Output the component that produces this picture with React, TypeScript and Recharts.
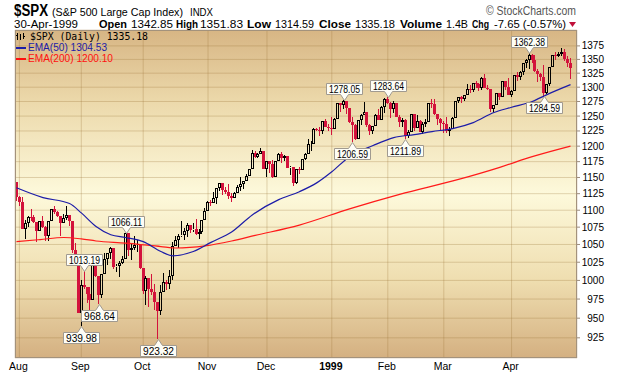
import React from 'react';
import { ComposedChart, Bar, Line, XAxis, YAxis, CartesianGrid, ReferenceDot } from 'recharts';

// trading days, grouped by month
const tradingDays: [string, number[]][] = [
    ['1998-07', [31]],
    ['1998-08', [3, 4, 5, 6, 7, 10, 11, 12, 13, 14, 17, 18, 19, 20, 21, 24, 25, 26, 27, 28, 31]],
    ['1998-09', [1, 2, 3, 4, 8, 9, 10, 11, 14, 15, 16, 17, 18, 21, 22, 23, 24, 25, 28, 29, 30]],
    ['1998-10', [1, 2, 5, 6, 7, 8, 9, 12, 13, 14, 15, 16, 19, 20, 21, 22, 23, 26, 27, 28, 29, 30]],
    ['1998-11', [2, 3, 4, 5, 6, 9, 10, 11, 12, 13, 16, 17, 18, 19, 20, 23, 24, 25, 27, 30]],
    ['1998-12', [1, 2, 3, 4, 7, 8, 9, 10, 11, 14, 15, 16, 17, 18, 21, 22, 23, 24, 28, 29, 30, 31]],
    ['1999-01', [4, 5, 6, 7, 8, 11, 12, 13, 14, 15, 19, 20, 21, 22, 25, 26, 27, 28, 29]],
    ['1999-02', [1, 2, 3, 4, 5, 8, 9, 10, 11, 12, 16, 17, 18, 19, 22, 23, 24, 25, 26]],
    ['1999-03', [1, 2, 3, 4, 5, 8, 9, 10, 11, 12, 15, 16, 17, 18, 19, 22, 23, 24, 25, 26, 29, 30, 31]],
    ['1999-04', [1, 5, 6, 7, 8, 9, 12, 13, 14, 15, 16, 19, 20, 21, 22, 23, 26, 27, 28, 29, 30]],
];
const dates: string[] = tradingDays.flatMap(([m, days]) => days.map((d) => `${m}-${String(d).padStart(2, '0')}`));

const opens = [
    1143.09,
    1120.67, 1112.44, 1072.12, 1081.43, 1089.63, 1089.45, 1083.14, 1068.98, 1084.22, 1074.91, 1062.75, 1083.67, 1101.20, 1098.06, 1091.60, 1081.24, 1088.14, 1092.85, 1084.19, 1042.59, 1027.14,
    957.28, 994.26, 990.47, 982.26, 973.89, 1023.46, 1006.20, 980.19, 1009.06, 1029.72, 1037.68, 1045.48, 1018.87, 1020.09, 1023.89, 1029.63, 1066.09, 1042.72, 1044.75, 1048.69, 1049.02,
    1017.01, 986.39, 1002.60, 988.56, 984.59, 970.68, 959.44, 984.39, 997.71, 994.80, 1005.53, 1047.49, 1056.42, 1062.39, 1063.93, 1069.92, 1078.48, 1070.67, 1072.32, 1065.34, 1068.09, 1085.93,
    1098.67, 1111.60, 1110.84, 1118.67, 1133.85, 1141.01, 1130.20, 1128.26, 1120.97, 1117.69, 1125.72, 1135.87, 1139.32, 1144.48, 1152.61, 1163.55, 1188.21, 1182.99, 1186.87, 1192.33,
    1163.63, 1175.28, 1171.25, 1150.14, 1176.74, 1187.70, 1181.38, 1183.49, 1165.02, 1166.46, 1141.20, 1162.83, 1161.94, 1179.98, 1188.03, 1202.84, 1203.57, 1228.54, 1226.27, 1225.49, 1241.81, 1231.93,
    1229.23, 1228.10, 1244.78, 1272.34, 1269.73, 1275.09, 1263.88, 1239.51, 1234.40, 1212.19, 1243.26, 1252.00, 1256.62, 1235.16, 1225.19, 1233.98, 1252.31, 1243.17, 1265.37,
    1279.64, 1273.00, 1261.99, 1272.07, 1248.49, 1239.40, 1243.77, 1216.14, 1223.55, 1254.04, 1230.13, 1241.87, 1224.03, 1237.28, 1239.22, 1272.14, 1271.18, 1253.41, 1245.02,
    1238.33, 1236.16, 1225.50, 1227.70, 1246.64, 1275.47, 1282.73, 1279.84, 1286.84, 1297.68, 1294.59, 1307.26, 1306.38, 1297.82, 1316.55, 1299.29, 1297.01, 1262.14, 1268.59, 1289.99, 1282.80, 1310.17, 1300.75,
    1286.37, 1293.72, 1321.12, 1317.89, 1326.89, 1343.98, 1348.35, 1358.63, 1349.82, 1328.44, 1322.85, 1319.00, 1289.48, 1306.17, 1336.12, 1358.82, 1356.85, 1360.04, 1362.80, 1350.91, 1342.85,
];
const highs = [
    1143.09,
    1121.12, 1119.73, 1084.80, 1090.96, 1102.54, 1092.82, 1083.14, 1084.70, 1091.50, 1077.00, 1083.67, 1101.72, 1106.88, 1098.79, 1091.60, 1093.82, 1106.65, 1092.85, 1084.19, 1051.80, 1033.47,
    1000.71, 1013.19, 990.47, 991.41, 1023.46, 1027.72, 1006.20, 1009.06, 1038.38, 1037.90, 1046.07, 1045.48, 1022.01, 1026.02, 1033.89, 1066.11, 1066.09, 1051.89, 1061.46, 1056.31, 1049.02,
    1017.01, 1005.45, 1002.60, 1008.77, 995.67, 970.68, 993.26, 1010.71, 1000.78, 1014.42, 1053.09, 1062.65, 1065.21, 1084.06, 1073.71, 1080.96, 1078.48, 1081.24, 1087.08, 1072.79, 1086.11, 1103.78,
    1114.44, 1115.03, 1127.22, 1133.88, 1141.30, 1141.01, 1135.91, 1139.87, 1125.96, 1126.81, 1138.67, 1151.45, 1144.52, 1155.10, 1163.55, 1192.97, 1191.40, 1189.18, 1197.09, 1192.72,
    1175.89, 1175.28, 1176.99, 1176.74, 1188.96, 1191.01, 1185.22, 1183.49, 1167.67, 1166.46, 1162.83, 1166.29, 1180.03, 1188.89, 1210.88, 1209.22, 1229.89, 1229.72, 1231.52, 1241.86, 1244.93, 1237.18,
    1248.81, 1246.11, 1272.50, 1272.34, 1278.05, 1276.22, 1264.45, 1247.75, 1236.81, 1243.26, 1253.27, 1274.07, 1256.94, 1236.41, 1233.98, 1253.25, 1262.61, 1266.40, 1280.37,
    1283.64, 1273.49, 1276.04, 1272.23, 1251.86, 1246.90, 1245.19, 1226.78, 1254.04, 1254.19, 1252.17, 1242.85, 1239.36, 1245.57, 1272.22, 1279.50, 1280.20, 1253.41, 1246.01,
    1241.69, 1248.31, 1231.63, 1247.74, 1275.73, 1282.74, 1283.83, 1287.02, 1306.43, 1304.42, 1307.47, 1311.11, 1306.55, 1317.62, 1323.82, 1303.84, 1297.01, 1269.02, 1289.99, 1289.99, 1310.76, 1310.17, 1316.63,
    1294.54, 1321.12, 1326.76, 1329.58, 1344.08, 1351.22, 1362.38, 1360.27, 1357.24, 1332.41, 1325.03, 1340.02, 1306.30, 1336.12, 1358.84, 1363.65, 1363.56, 1371.56, 1368.62, 1356.75, 1351.83,
];
const lows = [
    1114.30,
    1106.39, 1071.82, 1057.35, 1074.94, 1084.72, 1081.76, 1054.00, 1068.98, 1074.10, 1055.20, 1055.08, 1083.67, 1094.00, 1089.55, 1062.00, 1081.24, 1085.53, 1076.12, 1037.61, 1023.11, 957.28,
    939.98, 988.40, 969.32, 956.51, 973.89, 1004.56, 968.64, 976.80, 1009.06, 1021.18, 1029.31, 1016.05, 1011.86, 1004.00, 1021.96, 1029.63, 1033.04, 1028.49, 1042.23, 1039.88, 1015.73,
    981.29, 967.40, 964.72, 981.03, 960.93, 923.32, 954.20, 984.39, 987.55, 987.80, 1000.12, 1047.49, 1045.54, 1060.61, 1056.18, 1061.42, 1067.05, 1068.17, 1063.05, 1057.92, 1064.74, 1085.93,
    1098.67, 1105.95, 1110.84, 1109.57, 1129.84, 1123.62, 1124.67, 1117.50, 1112.82, 1117.69, 1125.72, 1128.60, 1131.51, 1144.42, 1152.61, 1163.55, 1181.60, 1180.52, 1186.87, 1163.63,
    1150.31, 1157.76, 1149.61, 1150.14, 1176.74, 1172.81, 1175.89, 1164.96, 1153.89, 1136.89, 1139.55, 1154.69, 1161.94, 1178.27, 1188.03, 1192.72, 1203.57, 1224.85, 1216.52, 1220.78, 1231.20, 1224.17,
    1219.10, 1228.10, 1244.78, 1257.68, 1261.82, 1253.34, 1238.29, 1206.59, 1209.54, 1212.19, 1234.91, 1251.54, 1232.19, 1217.97, 1219.46, 1233.98, 1242.82, 1243.17, 1255.18,
    1271.31, 1247.56, 1255.25, 1248.36, 1232.28, 1231.98, 1211.89, 1213.41, 1223.55, 1225.52, 1230.13, 1223.00, 1220.60, 1230.83, 1239.22, 1263.56, 1252.01, 1235.61, 1225.23,
    1221.23, 1221.87, 1216.03, 1227.70, 1246.64, 1271.58, 1271.74, 1275.16, 1286.84, 1289.17, 1291.03, 1297.74, 1292.63, 1294.75, 1298.92, 1294.26, 1257.46, 1256.43, 1268.59, 1276.88, 1282.80, 1295.47, 1285.72,
    1282.56, 1293.72, 1311.07, 1312.59, 1321.60, 1335.24, 1332.41, 1344.03, 1326.41, 1308.38, 1311.40, 1284.59, 1288.34, 1301.84, 1336.12, 1349.45, 1353.72, 1356.55, 1346.29, 1336.81, 1314.59,
];
const closes = [
    1120.67,
    1112.44, 1072.12, 1081.43, 1089.63, 1089.45, 1083.14, 1068.98, 1084.22, 1074.91, 1062.75, 1083.67, 1101.20, 1098.06, 1091.60, 1081.24, 1088.14, 1092.85, 1084.19, 1042.59, 1027.14, 957.28,
    994.26, 990.47, 982.26, 973.89, 1023.46, 1006.20, 980.19, 1009.06, 1029.72, 1037.68, 1045.48, 1018.87, 1020.09, 1023.89, 1029.63, 1066.09, 1042.72, 1044.75, 1048.69, 1049.02, 1017.01,
    986.39, 1002.60, 988.56, 984.59, 970.68, 959.44, 984.39, 997.71, 994.80, 1005.53, 1047.49, 1056.42, 1062.39, 1063.93, 1069.92, 1078.48, 1070.67, 1072.32, 1065.34, 1068.09, 1085.93, 1098.67,
    1111.60, 1110.84, 1118.67, 1133.85, 1141.01, 1130.20, 1128.26, 1120.97, 1117.69, 1125.72, 1135.87, 1139.32, 1144.48, 1152.61, 1163.55, 1188.21, 1182.99, 1186.87, 1192.33, 1163.63,
    1175.28, 1171.25, 1150.14, 1176.74, 1187.70, 1181.38, 1183.49, 1165.02, 1166.46, 1141.20, 1162.83, 1161.94, 1179.98, 1188.03, 1202.84, 1203.57, 1228.54, 1226.27, 1225.49, 1241.81, 1231.93, 1229.23,
    1228.10, 1244.78, 1272.34, 1269.73, 1275.09, 1263.88, 1239.51, 1234.40, 1212.19, 1243.26, 1252.00, 1256.62, 1235.16, 1225.19, 1233.98, 1252.31, 1243.17, 1265.37, 1279.64,
    1273.00, 1261.99, 1272.07, 1248.49, 1239.40, 1243.77, 1216.14, 1223.55, 1254.04, 1230.13, 1241.87, 1224.03, 1237.28, 1239.22, 1272.14, 1271.18, 1253.41, 1245.02, 1238.33,
    1236.16, 1225.50, 1227.70, 1246.64, 1275.47, 1282.73, 1279.84, 1286.84, 1297.68, 1294.59, 1307.26, 1306.38, 1297.82, 1316.55, 1299.29, 1297.01, 1262.14, 1268.59, 1289.99, 1282.80, 1310.17, 1300.75, 1286.37,
    1293.72, 1321.12, 1317.89, 1326.89, 1343.98, 1348.35, 1358.63, 1349.82, 1328.44, 1322.85, 1319.00, 1289.48, 1306.17, 1336.12, 1358.82, 1356.85, 1360.04, 1362.80, 1350.91, 1342.83, 1335.18,
];

const ema50Points: [string, number][] = [
    ['1998-07-31', 1134], ['1998-08-13', 1119], ['1998-08-26', 1110], ['1998-09-01', 1096], ['1998-09-09', 1076],
    ['1998-09-16', 1064], ['1998-09-23', 1060], ['1998-10-01', 1054], ['1998-10-09', 1040], ['1998-10-15', 1034],
    ['1998-10-26', 1040], ['1998-11-03', 1053], ['1998-11-12', 1068], ['1998-11-23', 1093], ['1998-12-07', 1116],
    ['1998-12-16', 1128], ['1998-12-24', 1142], ['1999-01-04', 1159], ['1999-01-12', 1183], ['1999-01-25', 1201],
    ['1999-02-03', 1214], ['1999-02-12', 1219], ['1999-02-23', 1224], ['1999-03-04', 1229], ['1999-03-15', 1239],
    ['1999-03-24', 1256], ['1999-04-01', 1265], ['1999-04-13', 1275], ['1999-04-20', 1287], ['1999-04-30', 1304.53],
];
const ema200Points: [string, number][] = [
    ['1998-07-31', 1054], ['1998-08-12', 1057], ['1998-08-24', 1060], ['1998-09-01', 1058], ['1998-09-09', 1055],
    ['1998-09-23', 1052], ['1998-10-09', 1047], ['1998-10-16', 1045], ['1998-10-30', 1048], ['1998-11-12', 1055],
    ['1998-11-24', 1063], ['1998-12-16', 1078], ['1999-01-12', 1102], ['1999-02-05', 1124], ['1999-03-08', 1147],
    ['1999-03-26', 1166], ['1999-04-13', 1183], ['1999-04-30', 1200.10],
];

const monthTicks = ['1998-08-03', '1998-09-01', '1998-10-01', '1998-11-02', '1998-12-01', '1999-01-04', '1999-02-01', '1999-03-01', '1999-04-01'];
const monthLabels = ['Aug', 'Sep', 'Oct', 'Nov', 'Dec', '1999', 'Feb', 'Mar', 'Apr'];
const priceTicks = [925, 950, 975, 1000, 1025, 1050, 1075, 1100, 1125, 1150, 1175, 1200, 1225, 1250, 1275, 1300, 1325, 1350, 1375];

// peak / trough annotations
const callouts: [string, number][] = [
    ['1998-09-01', 939.98], ['1998-09-02', 1013.19], ['1998-09-10', 968.64], ['1998-09-23', 1066.11],
    ['1998-10-08', 923.32], ['1999-01-08', 1278.05], ['1999-01-13', 1206.59], ['1999-02-01', 1283.64],
    ['1999-02-09', 1211.89], ['1999-04-12', 1362.38], ['1999-04-19', 1284.59],
];

const RED = '#d3123c';
const FONT = '"Liberation Sans", Arial, sans-serif';

const ema50Map = new Map(ema50Points);
const ema200Map = new Map(ema200Points);
const chartData = dates.map((date, i) => ({
    date,
    range: [lows[i], highs[i]],
    open: opens[i],
    high: highs[i],
    low: lows[i],
    close: closes[i],
    ema50: ema50Map.get(date) ?? null,
    ema200: ema200Map.get(date) ?? null,
}));

const Candle = (props: any) => {
    const { x, y, width, height, payload } = props;
    if (!payload || x == null || y == null) return null;
    const top = Math.min(y, y + height);
    const h = Math.abs(height);
    const lnH = Math.log(payload.high);
    const span = lnH - Math.log(payload.low);
    const toY = (v: number) => (span > 0 ? top + ((lnH - Math.log(v)) / span) * h : top);
    const cx = Math.floor(x + width / 2);
    const yO = toY(payload.open);
    const yC = toY(payload.close);
    const bTop = Math.round(Math.min(yO, yC));
    const bBot = Math.round(Math.max(yO, yC));
    const wTop = Math.round(top);
    const wBot = Math.round(top + h);
    if (payload.close >= payload.open) {
        return (
            <g stroke="#000" strokeWidth={1} fill="none" shapeRendering="crispEdges">
                <line x1={cx + 0.5} x2={cx + 0.5} y1={wTop} y2={bTop} />
                <line x1={cx + 0.5} x2={cx + 0.5} y1={bBot} y2={wBot} />
                <rect x={cx - 0.5} y={bTop + 0.5} width={2} height={Math.max(bBot - bTop - 1, 0)} />
            </g>
        );
    }
    return (
        <g shapeRendering="crispEdges">
            <line x1={cx + 0.5} x2={cx + 0.5} y1={wTop} y2={wBot} stroke={RED} strokeWidth={1} />
            <rect x={cx - 1} y={bTop} width={3} height={Math.max(bBot - bTop, 1)} fill={RED} />
        </g>
    );
};

const Callout = ({ cx, cy, text, below }: { cx: number; cy: number; text: string; below: boolean }) => {
    if (cx == null || cy == null) return null;
    const w = 36;
    const h = 11;
    const px = Math.round(cx) + 0.5;
    const tip = Math.round(cy) + 0.5;
    const bx = px - w / 2;
    const by = below ? tip + 6 : tip - 6 - h;
    const d = below
        ? `M${bx},${by} H${px - 4} L${px},${tip} L${px + 4},${by} H${bx + w} V${by + h} H${bx} Z`
        : `M${bx},${by} H${bx + w} V${by + h} H${px + 4} L${px},${tip} L${px - 4},${by + h} H${bx} Z`;
    return (
        <g>
            <path d={d} fill="#fdfdf6" stroke="#a09a90" strokeWidth={1} />
            <text x={px} y={by + h - 2} textAnchor="middle" fontSize={10} fontFamily={FONT} fill="#000"
                textLength={31} lengthAdjust="spacingAndGlyphs">{text}</text>
        </g>
    );
};

const PriceTick = ({ y, payload }: any) => (
    <text x={604} y={y + 3.5} textAnchor="end" fontSize={10} fontFamily={FONT} fill="#000">{payload.value}</text>
);

const MonthTick = ({ x, payload }: any) => {
    const idx = monthTicks.indexOf(payload.value);
    const label = monthLabels[idx];
    return (
        <text x={x - 1} y={370} textAnchor="middle" fontSize={10.5} fontFamily={FONT}
            fontWeight={label === '1999' ? 'bold' : 'normal'} fill="#000">{label}</text>
    );
};

const Header = () => (
    <svg width={620} height={376} style={{ position: 'absolute', left: 0, top: 0, pointerEvents: 'none' }}>
        <g fontFamily={FONT} fill="#000">
            <text x={14} y={16} fontSize={16} fontWeight="bold" textLength={34} lengthAdjust="spacingAndGlyphs">$SPX</text>
            <text x={52} y={16} fontSize={10.6} textLength={131} lengthAdjust="spacingAndGlyphs">(S&amp;P 500 Large Cap Index)</text>
            <text x={190} y={16} fontSize={11.5} textLength={23} lengthAdjust="spacingAndGlyphs">INDX</text>
            <text x={486} y={15} fontSize={12} fill="#555" textLength={90} lengthAdjust="spacingAndGlyphs">© StockCharts.com</text>

            <text x={14} y={28} fontSize={11} textLength={64} lengthAdjust="spacingAndGlyphs">30-Apr-1999</text>
            <text x={99} y={28} fontSize={11} fontWeight="bold" textLength={28} lengthAdjust="spacingAndGlyphs">Open</text>
            <text x={131} y={28} fontSize={11} textLength={42} lengthAdjust="spacingAndGlyphs">1342.85</text>
            <text x={176} y={28} fontSize={11} fontWeight="bold" textLength={22} lengthAdjust="spacingAndGlyphs">High</text>
            <text x={200} y={28} fontSize={11} textLength={43} lengthAdjust="spacingAndGlyphs">1351.83</text>
            <text x={247} y={28} fontSize={11} fontWeight="bold" textLength={24} lengthAdjust="spacingAndGlyphs">Low</text>
            <text x={275} y={28} fontSize={11} textLength={39} lengthAdjust="spacingAndGlyphs">1314.59</text>
            <text x={319} y={28} fontSize={11} fontWeight="bold" textLength={32} lengthAdjust="spacingAndGlyphs">Close</text>
            <text x={355} y={28} fontSize={11} textLength={40} lengthAdjust="spacingAndGlyphs">1335.18</text>
            <text x={400} y={28} fontSize={11} fontWeight="bold" textLength={42} lengthAdjust="spacingAndGlyphs">Volume</text>
            <text x={446} y={28} fontSize={11} textLength={22} lengthAdjust="spacingAndGlyphs">1.4B</text>
            <text x={472} y={28} fontSize={11} fontWeight="bold" textLength={17} lengthAdjust="spacingAndGlyphs">Chg</text>
            <text x={494} y={28} fontSize={11} textLength={72} lengthAdjust="spacingAndGlyphs">-7.65 (-0.57%)</text>
            <path d="M569,22 L576,22 L572.5,27 Z" fill="#c0103a" />
        </g>

        {/* legend inside the plot */}
        <g shapeRendering="crispEdges">
            <line x1={17.5} x2={17.5} y1={33} y2={40} stroke="#000" />
            <line x1={16} x2={17.5} y1={35.5} y2={35.5} stroke="#000" />
            <line x1={20.5} x2={20.5} y1={34} y2={40} stroke="#000" />
            <line x1={23.5} x2={23.5} y1={33} y2={39} stroke="#000" />
            <line x1={23.5} x2={25} y1={36.5} y2={36.5} stroke="#000" />
            <line x1={16} x2={26} y1={47.5} y2={47.5} stroke="#1c1ca8" strokeWidth={2} />
            <line x1={16} x2={26} y1={58.5} y2={58.5} stroke="#ff1010" strokeWidth={2} />
        </g>
        <text x={30} y={40} fontSize={10.5} fontFamily='"DejaVu Sans Mono", monospace' fill="#000"
            textLength={118} lengthAdjust="spacingAndGlyphs">$SPX (Daily) 1335.18</text>
        <text x={28} y={51} fontSize={10.5} fontFamily={FONT} fill="#1c1ca8"
            textLength={79} lengthAdjust="spacingAndGlyphs">EMA(50) 1304.53</text>
        <text x={28} y={62} fontSize={10.5} fontFamily={FONT} fill="#ff1010"
            textLength={85} lengthAdjust="spacingAndGlyphs">EMA(200) 1200.10</text>
    </svg>
);

export default function App() {
    return (
        <div style={{ position: 'absolute', left: 0, top: 0, width: 620, height: 376, background: '#fff' }}>
            {/* plot background */}
            <div style={{
                position: 'absolute', left: 15, top: 30, width: 562, height: 328,
                background: 'linear-gradient(to bottom, #d7b584 0%, #ecd9ab 22%, #fdf9db 50%, #efdeb0 76%, #d4b081 100%)',
            }} />
            <div style={{ position: 'absolute', left: 0, top: 0 }}>
                <ComposedChart width={620} height={376} data={chartData}
                    margin={{ top: 30, right: 3, bottom: 0, left: 15 }}>
                    <CartesianGrid stroke="rgba(150,110,50,0.28)" strokeWidth={1} />
                    <XAxis dataKey="date" ticks={monthTicks} interval={0} tick={<MonthTick />}
                        tickLine={false} axisLine={false} height={18} padding={{ left: 0, right: 5 }} />
                    <YAxis orientation="right" scale="log" domain={[900, 1405]} allowDataOverflow
                        ticks={priceTicks} interval={0} tick={<PriceTick />} width={40} axisLine={false}
                        tickLine={{ stroke: '#9c8c7c' }} tickSize={3} />
                    <Line dataKey="ema200" type="monotone" stroke="#ff1a1a" strokeWidth={1.2} dot={false}
                        connectNulls isAnimationActive={false} />
                    <Line dataKey="ema50" type="monotone" stroke="#1c1ca8" strokeWidth={1.2} dot={false}
                        connectNulls isAnimationActive={false} />
                    <Bar dataKey="range" shape={(p: any) => <Candle {...p} />} isAnimationActive={false} />
                    {callouts.map(([date, value]) => {
                        const below = lows[dates.indexOf(date)] === value;
                        return (
                            <ReferenceDot key={date} x={date} y={value} r={0} ifOverflow="visible"
                                shape={(p: any) => <Callout cx={p.cx} cy={p.cy} text={value.toFixed(2)} below={below} />} />
                        );
                    })}
                </ComposedChart>
            </div>
            <div style={{
                position: 'absolute', left: 15, top: 30, width: 562, height: 328,
                border: '1px solid #a3927c', boxSizing: 'border-box', pointerEvents: 'none',
            }} />
            <Header />
        </div>
    );
}
